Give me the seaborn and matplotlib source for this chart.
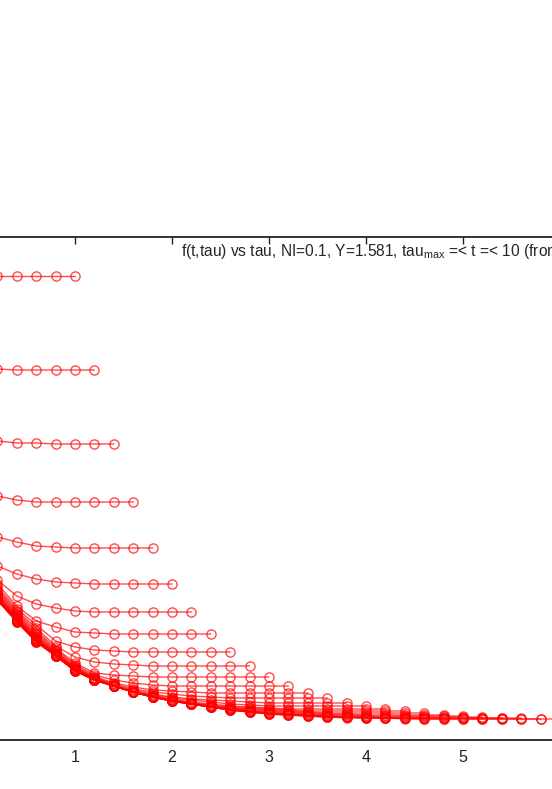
import matplotlib
matplotlib.use("Agg")
import matplotlib.pyplot as plt
import pandas as pd
import seaborn as sns

# --------------------------
# Data: f(t, tau) vs tau, one curve per t (tau runs up to t)
# --------------------------
tau_grid = [0.2, 0.4, 0.6, 0.8, 1.0, 1.2, 1.4, 1.6, 1.8, 2.0,
            2.2, 2.4, 2.6, 2.8, 3.0, 3.2, 3.4, 3.6, 3.8, 4.0,
            4.2, 4.4, 4.6, 4.8, 5.0, 5.2, 5.4, 5.6, 5.8, 6.0]

t_values = [1.0, 1.2, 1.4, 1.6, 1.8, 2.0, 2.2, 2.4, 2.6, 2.8,
            3.0, 3.2, 3.4, 3.6, 3.8, 4.0, 4.2, 4.4, 4.6, 4.8,
            5.0, 5.2, 5.4, 5.6, 5.8, 6.0]

f_t10 = [4.64, 4.64, 4.64, 4.64, 4.64]
f_t12 = [3.71, 3.70, 3.70, 3.70, 3.70, 3.70]
f_t14 = [2.99, 2.97, 2.97, 2.96, 2.96, 2.96, 2.96]
f_t16 = [2.44, 2.40, 2.38, 2.38, 2.38, 2.38, 2.38, 2.38]
f_t18 = [2.03, 1.98, 1.94, 1.93, 1.92, 1.92, 1.92, 1.92, 1.92]
f_t20 = [1.74, 1.66, 1.61, 1.58, 1.57, 1.56, 1.56, 1.56, 1.56, 1.56]
f_t22 = [1.60, 1.44, 1.36, 1.32, 1.29, 1.28, 1.28, 1.28, 1.28, 1.28, 1.28]
f_t24 = [1.56, 1.34, 1.19, 1.13, 1.08, 1.07, 1.06, 1.06, 1.06, 1.06, 1.06, 1.06]
f_t26 = [1.53, 1.315, 1.15, 0.99, 0.93, 0.90, 0.89, 0.88, 0.88, 0.88, 0.88, 0.88, 0.88]
f_t28 = [1.51, 1.295, 1.12, 0.94, 0.83, 0.78, 0.76, 0.75, 0.74, 0.74, 0.74, 0.74, 0.74, 0.74]
f_t30 = [1.49, 1.28, 1.095, 0.92, 0.77, 0.67, 0.65, 0.64, 0.63, 0.63, 0.63, 0.63, 0.63, 0.63,
         0.63]
f_t32 = [1.475, 1.265, 1.075, 0.905, 0.755, 0.65, 0.60, 0.57, 0.55, 0.54, 0.54, 0.54, 0.54,
         0.54, 0.54, 0.54]
f_t34 = [1.46, 1.25, 1.06, 0.89, 0.74, 0.635, 0.57, 0.53, 0.50, 0.49, 0.48, 0.47, 0.47, 0.47,
         0.47, 0.47, 0.47]
f_t36 = [1.45, 1.24, 1.045, 0.88, 0.73, 0.625, 0.56, 0.51, 0.48, 0.46, 0.44, 0.43, 0.42, 0.42,
         0.42, 0.42, 0.42, 0.42]
f_t38 = [1.44, 1.23, 1.035, 0.87, 0.72, 0.62, 0.55, 0.50, 0.46, 0.43, 0.41, 0.40, 0.39, 0.38,
         0.37, 0.37, 0.37, 0.37, 0.37]
f_t40 = [1.43, 1.22, 1.025, 0.865, 0.715, 0.615, 0.54, 0.49, 0.45, 0.42, 0.40, 0.38, 0.36,
         0.35, 0.34, 0.34, 0.34, 0.34, 0.34, 0.34]
f_t42 = [1.425, 1.215, 1.015, 0.86, 0.71, 0.61, 0.54, 0.48, 0.44, 0.41, 0.38, 0.36, 0.34,
         0.33, 0.32, 0.31, 0.31, 0.31, 0.31, 0.31, 0.31]
f_t44 = [1.42, 1.21, 1.01, 0.855, 0.705, 0.607, 0.54, 0.48, 0.44, 0.40, 0.37, 0.35, 0.33,
         0.32, 0.31, 0.30, 0.29, 0.29, 0.29, 0.29, 0.29, 0.29]
f_t46 = [1.415, 1.205, 1.005, 0.85, 0.70, 0.605, 0.54, 0.48, 0.43, 0.40, 0.37, 0.34, 0.32,
         0.31, 0.30, 0.29, 0.28, 0.27, 0.27, 0.27, 0.27, 0.27, 0.27]
f_t48 = [1.41, 1.20, 1.00, 0.847, 0.697, 0.603, 0.54, 0.48, 0.43, 0.39, 0.36, 0.34, 0.32,
         0.30, 0.29, 0.28, 0.27, 0.26, 0.26, 0.25, 0.25, 0.25, 0.25, 0.25]
f_t50 = [1.407, 1.195, 0.995, 0.845, 0.697, 0.60, 0.54, 0.48, 0.43, 0.39, 0.36, 0.33, 0.31,
         0.29, 0.28, 0.27, 0.26, 0.25, 0.25, 0.24, 0.24, 0.24, 0.24, 0.24, 0.24]
f_t52 = [1.404, 1.19, 0.99, 0.845, 0.695, 0.60, 0.54, 0.48, 0.43, 0.39, 0.36, 0.33, 0.31,
         0.29, 0.27, 0.26, 0.25, 0.24, 0.24, 0.23, 0.23, 0.23, 0.23, 0.23, 0.23, 0.23]
f_t54 = [1.40, 1.187, 0.987, 0.842, 0.693, 0.60, 0.54, 0.48, 0.43, 0.39, 0.36, 0.33, 0.30,
         0.28, 0.27, 0.26, 0.25, 0.24, 0.23, 0.23, 0.22, 0.22, 0.22, 0.22, 0.22, 0.22, 0.22]
f_t56 = [1.40, 1.184, 0.984, 0.842, 0.692, 0.60, 0.54, 0.48, 0.43, 0.39, 0.36, 0.33, 0.30,
         0.28, 0.26, 0.25, 0.24, 0.23, 0.23, 0.22, 0.22, 0.22, 0.22, 0.22, 0.22, 0.22, 0.22,
         0.22]
f_t58 = [1.40, 1.182, 0.982, 0.84, 0.69, 0.60, 0.54, 0.48, 0.43, 0.39, 0.36, 0.33, 0.30,
         0.28, 0.26, 0.25, 0.24, 0.23, 0.23, 0.22, 0.22, 0.22, 0.21, 0.21, 0.21, 0.21, 0.21,
         0.21, 0.21]
f_t60 = [1.40, 1.18, 0.98, 0.84, 0.69, 0.60, 0.54, 0.48, 0.43, 0.39, 0.36, 0.33, 0.30, 0.28,
         0.26, 0.25, 0.24, 0.23, 0.22, 0.22, 0.22, 0.21, 0.21, 0.21, 0.21, 0.21, 0.21, 0.21,
         0.21, 0.21]

curves = [f_t10, f_t12, f_t14, f_t16, f_t18, f_t20, f_t22, f_t24, f_t26, f_t28,
          f_t30, f_t32, f_t34, f_t36, f_t38, f_t40, f_t42, f_t44, f_t46, f_t48,
          f_t50, f_t52, f_t54, f_t56, f_t58, f_t60]

x_ticks = [1, 2, 3, 4, 5]

title_text = "f(t,tau) vs tau, NI=0.1, Y=1.581, tau$_{\\rm max}$ =< t =< 10 (from top to bottom)"

# long table for seaborn
rows = []
for t, vals in zip(t_values, curves):
    for tau, f in zip(tau_grid, vals):
        rows.append((t, tau, f))
df = pd.DataFrame(rows, columns=["t", "tau", "f"])

# --------------------------
# Plot
# --------------------------
sns.set_style("white")
plt.rcParams["font.family"] = ["Liberation Sans", "DejaVu Sans"]
plt.rcParams["mathtext.fontset"] = "custom"
plt.rcParams["mathtext.rm"] = "Liberation Sans"

fig = plt.figure(figsize=(5.52, 7.89), dpi=100)
# the axes run past the left and right edges of the picture
ax = fig.add_axes([-22 / 552, 49 / 789, 970 / 552, 503 / 789])

sns.lineplot(data=df, x="tau", y="f", units="t", estimator=None, sort=False,
             color="red", lw=1.0, alpha=0.7, marker="o", markersize=6.6,
             markerfacecolor="none", markeredgecolor="red", markeredgewidth=1.0,
             legend=False, ax=ax)

ax.set_xlim(0, 10)
ax.set_ylim(0, 5.03)
ax.set_xticks(x_ticks)
ax.set_xlabel("")
ax.set_ylabel("")
ax.tick_params(direction="in", top=True, right=True, length=5, width=1,
               labelsize=11.5, pad=7.5, colors="#222222")
# the y axis lies outside the picture, its labels are not shown
ax.tick_params(axis="y", labelleft=False)
for side in ["left", "right", "top", "bottom"]:
    ax.spines[side].set_visible(True)
    ax.spines[side].set_color("#222222")
    ax.spines[side].set_linewidth(1.3)

ax.text(2.09, 4.84, title_text, fontsize=11.2, ha="left", va="baseline")

fig.savefig("out.png", dpi=100)
